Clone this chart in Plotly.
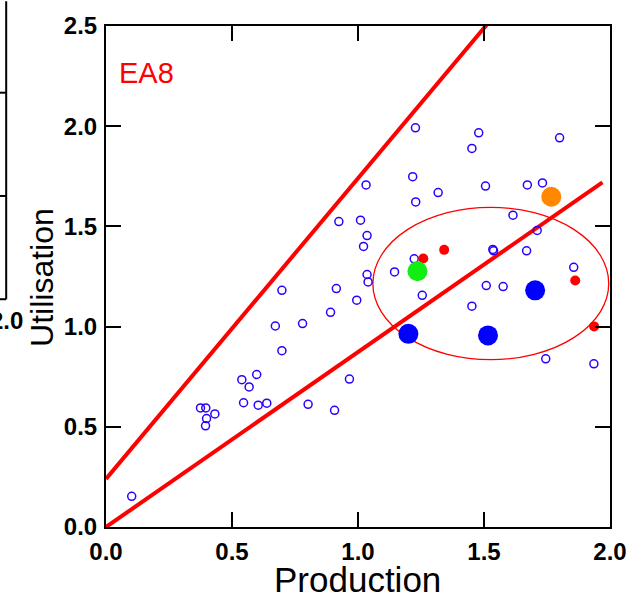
import plotly.graph_objects as go

# ---------------- data ----------------
open_x = [1.228, 1.479, 1.452, 1.800, 1.032, 1.217, 1.318, 1.229, 1.506, 1.672,
          1.732, 1.615, 1.010, 1.036, 1.022, 1.711, 1.535, 1.538, 1.669, 1.223,
          1.145, 1.036, 1.040, 1.856, 1.509, 1.576, 1.255, 0.995, 1.452, 1.745,
          1.936, 0.966, 0.924, 0.698, 0.914, 0.891, 0.672, 0.780, 0.698, 0.539,
          0.598, 0.568, 0.546, 0.604, 0.638, 0.802, 0.907, 0.375, 0.396, 0.432,
          0.399, 0.395, 0.102]
open_y = [1.992, 1.967, 1.889, 1.942, 1.707, 1.748, 1.669, 1.622, 1.701, 1.707,
          1.717, 1.556, 1.531, 1.454, 1.400, 1.480, 1.385, 1.378, 1.378, 1.338,
          1.273, 1.260, 1.223, 1.296, 1.205, 1.200, 1.156, 1.132, 1.102, 0.839,
          0.814, 0.738, 1.524, 1.181, 1.190, 1.071, 1.003, 1.015, 0.880, 0.735,
          0.761, 0.699, 0.620, 0.608, 0.618, 0.612, 0.582, 0.594, 0.594, 0.564,
          0.541, 0.505, 0.153]

red_x = [1.342, 1.259, 1.862, 1.937]
red_y = [1.383, 1.340, 1.230, 1.001]

blue_x = [1.200, 1.516, 1.703]
blue_y = [0.964, 0.956, 1.181]

green_x = [1.236]
green_y = [1.276]

orange_x = [1.767]
orange_y = [1.648]

# reference lines: y = intercept + slope * x
upper_line = {"intercept": 0.24, "slope": 1.5, "x": [0.0, 2.0]}
lower_line = {"intercept": 0.0, "slope": 0.873, "x": [0.0, 1.97]}

# ellipse (centre, radii)
ell_cx, ell_cy = 1.527, 1.215
ell_rx, ell_ry = 0.468, 0.380

x_ticks = [0.0, 0.5, 1.0, 1.5, 2.0]
y_ticks = [0.0, 0.5, 1.0, 1.5, 2.0, 2.5]

# ---------------- figure ----------------
W, H = 639, 600
L, R, T, B = 105.5, 26, 20, 73
pw, ph = W - L - R, H - T - B


def px2paper_x(px):
    return (px - L) / pw


def px2paper_y(py):
    return (H - B - py) / ph


fig = go.Figure()

for ln in (upper_line, lower_line):
    fig.add_trace(go.Scatter(
        x=ln["x"], y=[ln["intercept"] + ln["slope"] * v for v in ln["x"]],
        mode="lines", line=dict(color="#ff0000", width=4),
        hoverinfo="skip", showlegend=False))

fig.add_trace(go.Scatter(
    x=open_x, y=open_y, mode="markers",
    marker=dict(symbol="circle-open", size=8, color="#2a00ff", line=dict(width=1.5, color="#2a00ff")),
    showlegend=False, cliponaxis=False))
fig.add_trace(go.Scatter(
    x=red_x, y=red_y, mode="markers",
    marker=dict(size=10, color="#ff0000", line=dict(width=0)),
    showlegend=False, cliponaxis=False))
fig.add_trace(go.Scatter(
    x=blue_x, y=blue_y, mode="markers",
    marker=dict(size=20, color="#0000ff", line=dict(width=0)),
    showlegend=False))
fig.add_trace(go.Scatter(
    x=green_x, y=green_y, mode="markers",
    marker=dict(size=20, color="#11ee11", line=dict(width=0)),
    showlegend=False))
fig.add_trace(go.Scatter(
    x=orange_x, y=orange_y, mode="markers",
    marker=dict(size=20, color="#ff8800", line=dict(width=0)),
    showlegend=False))

fig.add_shape(type="circle", xref="x", yref="y",
              x0=ell_cx - ell_rx, x1=ell_cx + ell_rx,
              y0=ell_cy - ell_ry, y1=ell_cy + ell_ry,
              line=dict(color="#ff0000", width=1.3), layer="below")

# fragment of neighbouring panel at the left edge
blk = dict(color="black", width=2)
fig.add_shape(type="line", xref="paper", yref="paper",
              x0=px2paper_x(5), x1=px2paper_x(5), y0=px2paper_y(296.5), y1=px2paper_y(-5), line=blk)
fig.add_shape(type="line", xref="paper", yref="paper",
              x0=px2paper_x(-5), x1=px2paper_x(5), y0=px2paper_y(296.5), y1=px2paper_y(296.5), line=blk)
for ty in (87.5, 192):
    fig.add_shape(type="line", xref="paper", yref="paper",
                  x0=px2paper_x(-5), x1=px2paper_x(5), y0=px2paper_y(ty), y1=px2paper_y(ty), line=blk)

font_family = "Liberation Sans, Arial, sans-serif"
tick_font = dict(size=24, color="black", family=font_family, weight="bold")

fig.add_annotation(text="2.0", xref="paper", yref="paper",
                   x=px2paper_x(24), y=px2paper_y(318), xanchor="right", yanchor="middle",
                   showarrow=False, font=tick_font)

fig.add_annotation(text="EA8", xref="paper", yref="paper",
                   x=px2paper_x(117), y=px2paper_y(68), xanchor="left", yanchor="middle",
                   showarrow=False, font=dict(size=29, color="#ff0000", family=font_family))

fig.add_annotation(text="Production", xref="paper", yref="paper",
                   x=px2paper_x(359), y=px2paper_y(580), xanchor="center", yanchor="middle",
                   showarrow=False, font=dict(size=35, color="black", family=font_family))
fig.add_annotation(text="Utilisation", xref="paper", yref="paper",
                   x=px2paper_x(41), y=px2paper_y(274), xanchor="center", yanchor="middle",
                   textangle=-90,
                   showarrow=False, font=dict(size=32, color="black", family=font_family))

axis_common = dict(showline=True, linecolor="black", linewidth=2, mirror="ticks",
                   ticks="inside", ticklen=15, tickwidth=2, tickcolor="black",
                   showgrid=False, zeroline=False, tickformat=".1f",
                   tickfont=tick_font)

fig.update_xaxes(range=[0, 2], tickvals=x_ticks, ticklabelstandoff=2, **axis_common)
fig.update_yaxes(range=[0, 2.5], tickvals=y_ticks, ticklabelstandoff=2, **axis_common)

fig.update_layout(width=W, height=H, margin=dict(l=L, r=R, t=T, b=B),
                  plot_bgcolor="white", paper_bgcolor="white",
                  font=dict(family=font_family), showlegend=False)

fig.write_html("out.html", config={"displayModeBar": False},
               post_script="document.body.style.margin='0';document.body.style.overflow='hidden';")
